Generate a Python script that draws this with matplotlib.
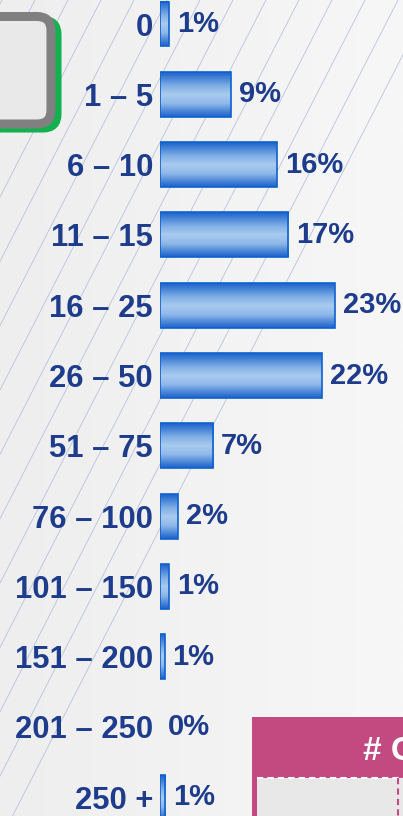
import numpy as np
import matplotlib.pyplot as plt
from matplotlib.patches import FancyBboxPatch, Rectangle
from matplotlib.colors import LinearSegmentedColormap

# bucket labels and share of total (%)
buckets = ["0", "1 – 5", "6 – 10", "11 – 15", "16 – 25", "26 – 50",
           "51 – 75", "76 – 100", "101 – 150", "151 – 200", "201 – 250", "250 +"]
shares = [1.2, 9.4, 15.6, 17.1, 23.3, 21.6, 7.1, 2.4, 1.2, 0.6, 0.0, 0.7]

W, H = 403, 816
NAVY = "#1E3C8C"

fig = plt.figure(figsize=(W / 100, H / 100), dpi=100)

# background layer in pixel coordinates
bg = fig.add_axes([0, 0, 1, 1])
bg.set_xlim(0, W)
bg.set_ylim(H, 0)
bg.axis("off")
grad = np.linspace(0, 1, 256).reshape(1, -1)
bg_cmap = LinearSegmentedColormap.from_list("bg", ["#EEEEEE", "#F7F7F7"])
bg.imshow(grad, extent=(0, W, H, 0), aspect="auto", cmap=bg_cmap, zorder=0)

# thin diagonal hatch lines
slope = 1.95
for xt in np.arange(233 - 33 * 16, W + 40, 33):
    bg.plot([xt - H / slope, xt], [H, 0], color="#B2BEDA", lw=0.55, zorder=1)

# rounded box top-left (green shadow + grey frame)
bg.add_patch(FancyBboxPatch((-30 + 8, 16.5 + 4), 79, 107.5,
                            boxstyle="round,pad=0,rounding_size=14",
                            fc="none", ec="#12B04E", lw=6.5, zorder=2))
bg.add_patch(FancyBboxPatch((-30, 16.5), 81, 107.5,
                            boxstyle="round,pad=0,rounding_size=14",
                            fc="#E9E9E9", ec="#808080", lw=6.5, zorder=3))

# pink panel bottom-right
bg.add_patch(Rectangle((252, 717), 160, 110, fc="#C24A80", ec="none", zorder=2))
bg.add_patch(Rectangle((257, 778), 160, 60, fc="#E8E8E8", ec="none", zorder=3))
bg.plot([257, 403], [778, 778], color="white", lw=1.5, ls=(0, (3, 2)), zorder=4)
bg.plot([398, 398], [778, 816], color="#C24A80", lw=1.5, ls=(0, (3, 2)), zorder=4)
bg.text(363, 760, "# C", color="white", fontsize=24, fontweight="bold",
        family="Liberation Sans", ha="left", va="baseline", zorder=5)

# bar chart axes: 160px left edge, 7.5 px per percent, 70.3 px per row
row = 70.3
top = 24 - row / 2
left = 160
ax_w = 243
ax = fig.add_axes([left / W, 1 - (top + row * len(buckets)) / H,
                   ax_w / W, row * len(buckets) / H])
ax.patch.set_alpha(0)
for s in ax.spines.values():
    s.set_visible(False)
ax.set_xticks([])

y = np.arange(len(buckets))
bars = ax.barh(y, shares, height=0.64, color="none",
               edgecolor="#0E62CF", linewidth=1.2, zorder=3)

bar_cmap = LinearSegmentedColormap.from_list(
    "bar", [(0, "#1C63CB"), (0.3, "#7FAEE6"), (0.5, "#A9CBEF"),
            (0.7, "#8FB8EA"), (1, "#1C63CB")])
vgrad = np.linspace(0, 1, 64).reshape(-1, 1)
for b in bars:
    if b.get_width() <= 0:
        b.set_visible(False)
        continue
    x0, y0 = b.get_x(), b.get_y()
    ax.imshow(vgrad, extent=(x0, x0 + b.get_width(), y0 + b.get_height(), y0),
              aspect="auto", cmap=bar_cmap, zorder=2)

ax.set_yticks(y)
ax.set_yticklabels(buckets, fontsize=22.3, fontweight="bold", color=NAVY,
                   family="Liberation Sans")
ax.tick_params(axis="y", length=0, pad=5)

for yi, v in zip(y, shares):
    ax.text(v + 8 / 7.5, yi, f"{v:.0f}%", va="center", ha="left",
            fontsize=21, fontweight="bold", color=NAVY, family="Liberation Sans")

ax.set_xlim(0, ax_w / 7.5)
ax.set_ylim(len(buckets) - 0.5, -0.5)

fig.savefig("out.png", dpi=100)
